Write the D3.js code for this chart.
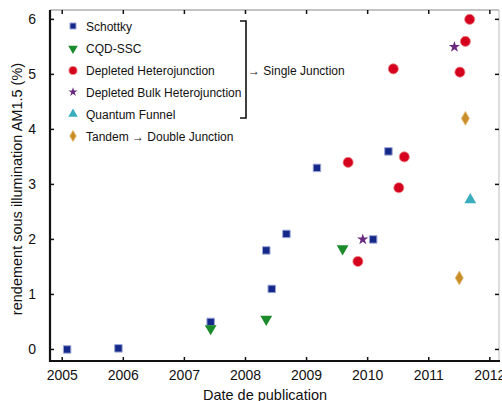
<!DOCTYPE html>
<html><head><meta charset="utf-8">
<script src="https://cdn.jsdelivr.net/npm/d3@7/dist/d3.min.js"></script>
<style>body{margin:0;background:#fff}svg{display:block;font-family:"Liberation Sans",Arial,sans-serif}</style>
</head><body><svg id="c" width="502" height="401"></svg>
<script>
const xTicks = [2005, 2006, 2007, 2008, 2009, 2010, 2011, 2012];
const yTicks = [0, 1, 2, 3, 4, 5, 6];
const seriesNames = ["Schottky", "CQD-SSC", "Depleted Heterojunction", "Depleted Bulk Heterojunction", "Quantum Funnel", "Tandem \u2192 Double Junction"];
const schottkyX = [2005.08, 2005.92, 2007.43, 2008.34, 2008.43, 2008.67, 2009.17, 2010.09, 2010.34];
const schottkyY = [0, 0.02, 0.5, 1.8, 1.1, 2.1, 3.3, 2.0, 3.6];
const cqdX = [2007.43, 2008.34, 2009.59];
const cqdY = [0.38, 0.55, 1.83];
const depX = [2009.68, 2009.84, 2010.42, 2010.51, 2010.60, 2011.51, 2011.60, 2011.67];
const depY = [3.4, 1.6, 5.1, 2.94, 3.5, 5.04, 5.6, 6.0];
const bulkX = [2009.92, 2011.42];
const bulkY = [2.0, 5.5];
const funnelX = [2011.68];
const funnelY = [2.72];
const tandemX = [2011.50, 2011.60];
const tandemY = [1.3, 4.2];
const bracketLabel = "\u2192 Single Junction";
const xLabel = "Date de publication";
const yLabel = "rendement sous illumination AM1.5 (%)";

const svg = d3.select("#c");
const L = 50, R = 499, T = 10, B = 361;
const x = d3.scaleLinear().domain([2004.8, 2012.15]).range([L, R]);
const y = d3.scaleLinear().domain([-0.21, 6.17]).range([B, T]);

const styles = [
  {sym: d3.symbolSquare, size: 56, fill: "#14288a", stroke: "#9ea6d6", sw: 1},
  {sym: d3.symbolTriangle, size: 60, fill: "#1a8a2a", stroke: "none", sw: 0, rot: 180},
  {sym: d3.symbolCircle, size: 80, fill: "#d4001e", stroke: "#e88", sw: 0.8},
  {sym: d3.symbolStar, size: 40, fill: "#6a2a80", stroke: "none", sw: 0},
  {sym: d3.symbolTriangle, size: 60, fill: "#3aaebe", stroke: "none", sw: 0},
  {sym: d3.symbolDiamond, size: 55, fill: "#c98d2a", stroke: "#e0b870", sw: 0.8}
];
const data = [[schottkyX, schottkyY],[cqdX, cqdY],[depX, depY],[bulkX, bulkY],[funnelX, funnelY],[tandemX, tandemY]];

svg.append("line").attr("x1", L).attr("x2", R).attr("y1", T).attr("y2", T).attr("stroke", "#888").attr("stroke-width", 1);
svg.append("line").attr("x1", R).attr("x2", R).attr("y1", T).attr("y2", B).attr("stroke", "#bbb").attr("stroke-width", 1);

const tk = 4;
xTicks.forEach(t => {
  svg.append("line").attr("x1", x(t)).attr("x2", x(t)).attr("y1", B).attr("y2", B - tk).attr("stroke", "#111").attr("stroke-width", 1.5);
  svg.append("line").attr("x1", x(t)).attr("x2", x(t)).attr("y1", T).attr("y2", T + tk).attr("stroke", "#111").attr("stroke-width", 1.5);
  svg.append("text").attr("x", x(t)).attr("y", B + 19).attr("text-anchor", "middle").attr("font-size", 14).attr("fill", "#111").text(t);
});
yTicks.forEach(t => {
  svg.append("line").attr("x1", L).attr("x2", L + tk).attr("y1", y(t)).attr("y2", y(t)).attr("stroke", "#111").attr("stroke-width", 1.5);
  svg.append("line").attr("x1", R).attr("x2", R - tk).attr("y1", y(t)).attr("y2", y(t)).attr("stroke", "#111").attr("stroke-width", 1.5);
  svg.append("text").attr("x", L - 14).attr("y", y(t) + 5).attr("text-anchor", "end").attr("font-size", 14).attr("fill", "#111").text(t);
});
svg.append("line").attr("x1", L).attr("x2", L).attr("y1", T).attr("y2", B + 1).attr("stroke", "#111").attr("stroke-width", 2.2);
svg.append("line").attr("x1", L - 1).attr("x2", R + 1).attr("y1", B).attr("y2", B).attr("stroke", "#111").attr("stroke-width", 2.2);

svg.append("text").attr("x", 265).attr("y", 400).attr("text-anchor", "middle").attr("font-size", 14.5).attr("fill", "#111").text(xLabel);
svg.append("text").attr("transform", "translate(22,189) rotate(-90)").attr("text-anchor", "middle").attr("font-size", 14.5).attr("fill", "#111").text(yLabel);

data.forEach((d, i) => {
  const s = styles[i];
  const g = svg.append("g");
  d[0].forEach((xv, j) => {
    g.append("path")
      .attr("d", d3.symbol().type(s.sym).size(s.size)())
      .attr("transform", `translate(${x(xv)},${y(d[1][j])})` + (s.rot ? ` rotate(${s.rot})` : ""))
      .attr("fill", s.fill).attr("stroke", s.stroke).attr("stroke-width", s.sw);
  });
});

const legY = [26, 48.5, 70.5, 92, 114, 136];
seriesNames.forEach((n, i) => {
  const s = styles[i];
  const sz = s.size * 0.65;
  svg.append("path").attr("d", d3.symbol().type(s.sym).size(sz)())
    .attr("transform", `translate(73,${legY[i]})` + (s.rot ? ` rotate(${s.rot})` : ""))
    .attr("fill", s.fill).attr("stroke", s.stroke).attr("stroke-width", s.sw);
  svg.append("text").attr("x", 86).attr("y", legY[i] + 4.5).attr("font-size", 12).attr("fill", "#111").text(n);
});
svg.append("path").attr("d", "M240,21 H246 V118 H240").attr("fill", "none").attr("stroke", "#111").attr("stroke-width", 1.6);
svg.append("text").attr("x", 248).attr("y", 75).attr("font-size", 12).attr("fill", "#111").text(bracketLabel);
</script></body></html>
